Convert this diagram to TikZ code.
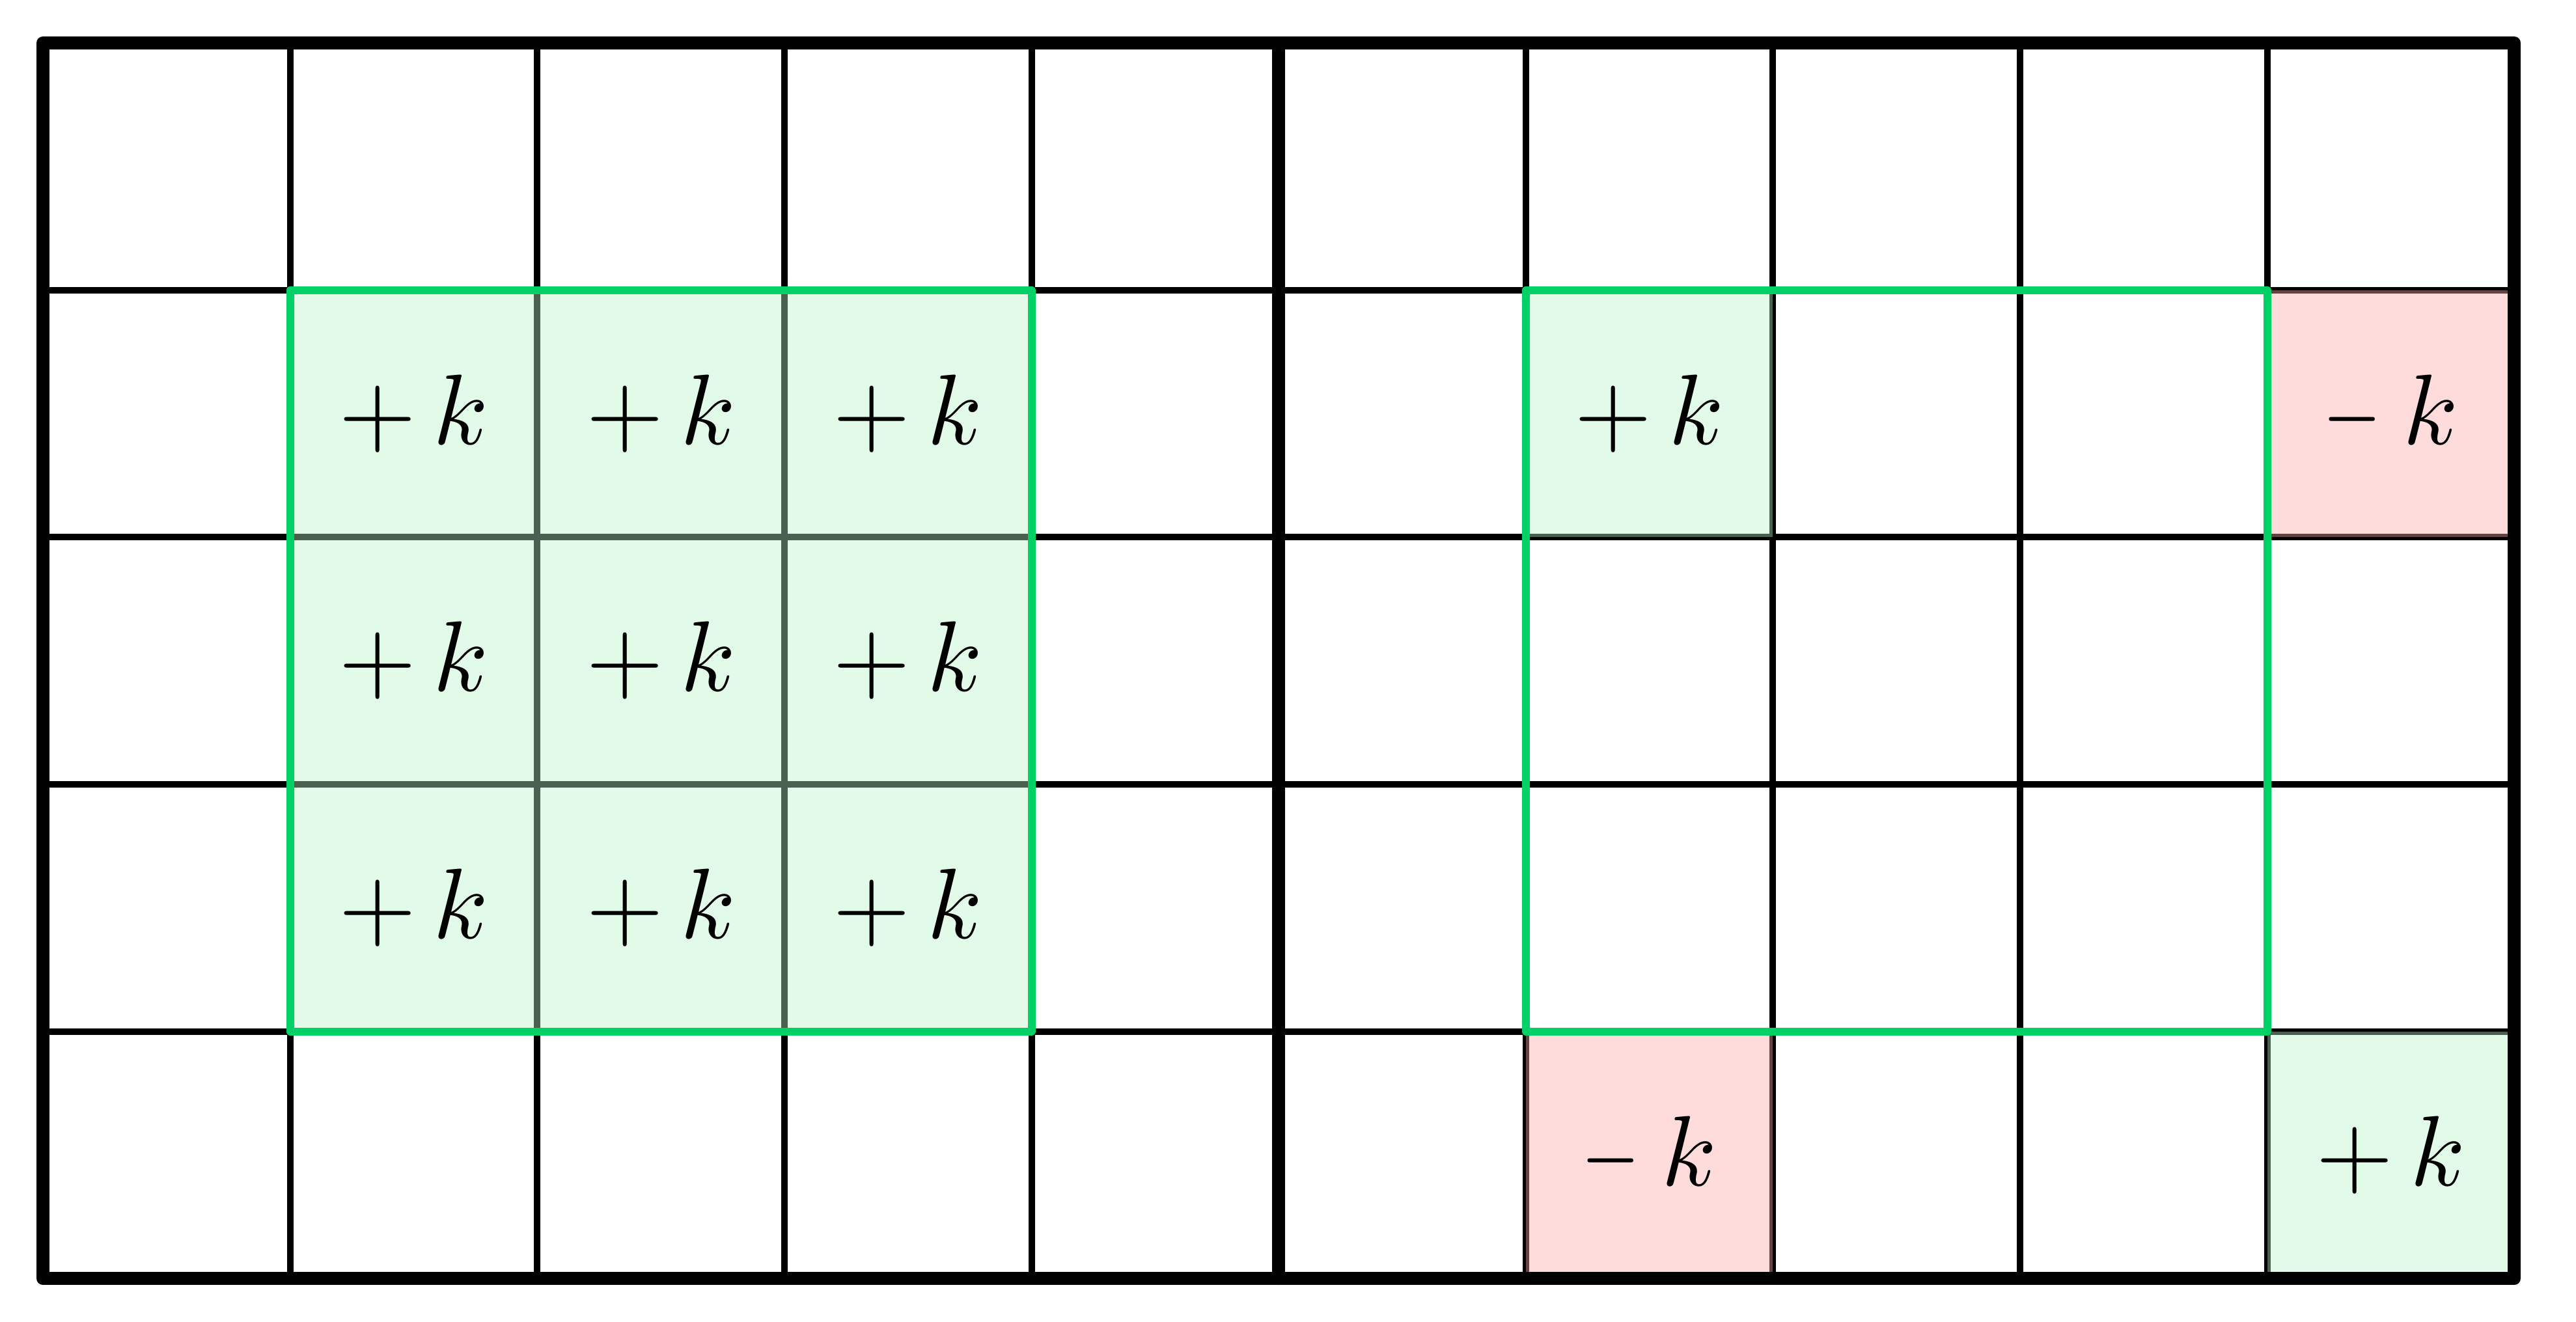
\documentclass[tikz,border=0pt]{standalone}
\usepackage{fix-cm}
\usepackage{graphicx}
\newcommand{\shortminus}{\mbox{\scalebox{0.75}[1]{$-$}}}
\begin{document}
\begin{tikzpicture}[x=1cm,y=1cm,
  thingrid/.style={line width=0.75pt,black},
  heavy/.style={line width=1.5pt,black,line join=round,line cap=round},
  greenbox/.style={line width=0.9pt,draw={rgb,255:red,0;green,209;blue,102},line join=round},
  cellbase/.style={rectangle,minimum size=1cm,inner sep=0pt,outer sep=0pt,
    fill opacity=0.4,text opacity=1,font=\fontsize{11.5}{14}\selectfont},
  pluscell/.style={cellbase,fill={rgb,255:red,183;green,244;blue,198}},
  minuscell/.style={cellbase,fill={rgb,255:red,254;green,168;blue,168}}]
\useasboundingbox (-0.174,-0.174) rectangle (10.250,5.174);
% thin grid
\foreach \x in {1,2,3,4,6,7,8,9} \draw[thingrid] (\x,0) -- (\x,5);
\foreach \y in {1,2,3,4} \draw[thingrid] (0,\y) -- (10,\y);
% left block
\foreach \c in {1,2,3} \foreach \r in {1,2,3}
  \node[pluscell] (L-\c-\r) at (\c+0.5,\r+0.5) {$+\,k$};
% right side cells
\node[pluscell] (R-6-3) at (6.5,3.5) {$+\,k$};
\node[minuscell] (R-9-3) at (9.5,3.5) {$\shortminus\:k$};
\node[minuscell] (R-6-0) at (6.5,0.5) {$\shortminus\:k$};
\node[pluscell] (R-9-0) at (9.5,0.5) {$+\,k$};
% heavy lines
\draw[heavy] (5,0) -- (5,5);
\draw[heavy] (0,0) rectangle (10,5);
% green windows
\draw[greenbox] (1,1) rectangle (4,4);
\draw[greenbox] (6,1) rectangle (9,4);
\end{tikzpicture}
\end{document}
